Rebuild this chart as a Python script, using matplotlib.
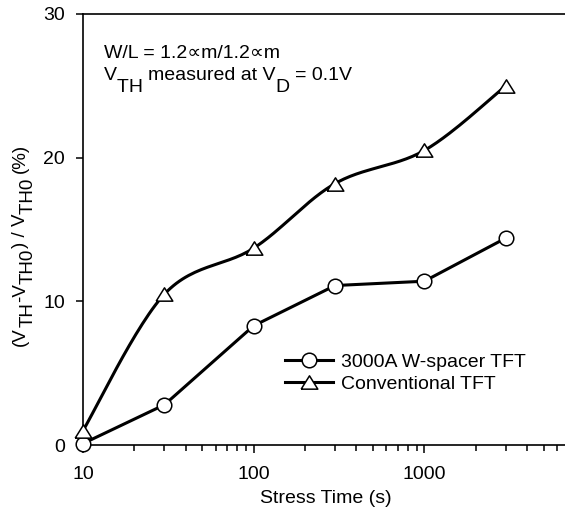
import numpy as np
import matplotlib.pyplot as plt
from matplotlib.transforms import offset_copy

plt.rcParams['font.family'] = ['Liberation Sans', 'DejaVu Sans']

# Dados
tempo = [10, 30, 100, 300, 1000, 3000]
wspacer = [0.1, 2.8, 8.3, 11.1, 11.4, 14.4]
convencional = [1.0, 10.5, 13.7, 18.2, 20.5, 25.0]
rotulos = ['3000A W-spacer TFT', 'Conventional TFT']

# triangulo um pouco mais largo que alto, como no original
triangulo = [(-1, -0.8), (1, -0.8), (0, 0.8), (-1, -0.8)]


def suavizar(x, y, n=30):
    # curva Catmull-Rom no espaco (log x, y), como a linha suavizada do Excel
    u = np.log10(x) * 170.5
    v = np.array(y) * 14.37
    pu = np.concatenate([[u[0]], u, [u[-1]]])
    pv = np.concatenate([[v[0]], v, [v[-1]]])
    xs, ys = [], []
    t = np.linspace(0, 1, n)
    for i in range(1, len(pu) - 2):
        c1u = pu[i] + (pu[i + 1] - pu[i - 1]) / 6
        c1v = pv[i] + (pv[i + 1] - pv[i - 1]) / 6
        c2u = pu[i + 1] - (pu[i + 2] - pu[i]) / 6
        c2v = pv[i + 1] - (pv[i + 2] - pv[i]) / 6
        bu = ((1 - t) ** 3 * pu[i] + 3 * (1 - t) ** 2 * t * c1u
              + 3 * (1 - t) * t ** 2 * c2u + t ** 3 * pu[i + 1])
        bv = ((1 - t) ** 3 * pv[i] + 3 * (1 - t) ** 2 * t * c1v
              + 3 * (1 - t) * t ** 2 * c2v + t ** 3 * pv[i + 1])
        xs.extend(10 ** (bu / 170.5))
        ys.extend(bv / 14.37)
    return xs, ys


fig = plt.figure(figsize=(5.65, 5.2), dpi=100)
ax = fig.add_axes([83 / 565, 1 - 445 / 520, 512 / 565, 431 / 520])
renderer = fig.canvas.get_renderer()


def largura(s, size):
    t1 = fig.text(0, 0, s + '|', fontsize=size)
    t2 = fig.text(0, 0, '|', fontsize=size)
    w = t1.get_window_extent(renderer).width - t2.get_window_extent(renderer).width
    t1.remove()
    t2.remove()
    return w


def texto_composto(x, y, partes, size, desce, vertical=False, centro=False):
    # partes: (texto, e_subscrito); x, y em pixels a partir do topo-esquerda
    total = sum(largura(s, size) for s, _ in partes)
    pos = -total / 2 if centro else 0
    base = fig.transFigure
    for s, sub in partes:
        d = desce if sub else 0
        if vertical:
            tr = offset_copy(base, fig=fig, x=d, y=pos, units='dots')
            rot = 90
        else:
            tr = offset_copy(base, fig=fig, x=pos, y=-d, units='dots')
            rot = 0
        fig.text(x / 565, 1 - y / 520, s, fontsize=size, rotation=rot,
                 rotation_mode='anchor', ha='left', va='baseline', transform=tr)
        pos += largura(s, size)


ax.plot(tempo, wspacer, color='black', lw=2.2, zorder=2)
ax.plot(tempo, wspacer, 'o', color='black', mfc='white', mec='black',
        mew=1.1, ms=10.5, clip_on=False, zorder=3)
xs, ys = suavizar(tempo, convencional)
ax.plot(xs, ys, color='black', lw=2.2, zorder=2)
ax.plot(tempo, convencional, marker=triangulo, ls='none', color='black',
        mfc='white', mec='black', mew=1.1, ms=12, clip_on=False, zorder=3)

# legenda
h1, = ax.plot([], [], '-o', color='black', lw=2.2, mfc='white', mec='black',
              mew=1.1, ms=10.5)
h2, = ax.plot([], [], '-', marker=triangulo, color='black', lw=2.2,
              mfc='white', mec='black', mew=1.1, ms=12)
ax.legend([h1, h2], rotulos, loc='upper left',
          bbox_to_anchor=((285 - 83) / 512, (445 - 353) / 431),
          frameon=False, fontsize=14, handlelength=2.45, handletextpad=0.45,
          labelspacing=0.26, borderaxespad=0, borderpad=0)

texto_composto(104, 58, [('W/L = 1.2\u221dm/1.2\u221dm', False)], 14, 0)
texto_composto(104, 80, [('V', False), ('TH ', True), ('measured at V', False),
                         ('D ', True), ('= 0.1V', False)], 14, 12)
texto_composto(25, 245, [('(V', False), ('TH', True), ('-V', False),
                         ('TH0', True), (') / V', False), ('TH0 ', True),
                         ('(%)', False)], 13.5, 8, vertical=True, centro=True)

ax.set_xscale('log')
ax.set_xlim(10, 10000)
ax.set_ylim(0, 30)
ax.set_yticks([0, 10, 20, 30])
ax.set_xticks([10, 100, 1000])
ax.set_xticklabels(['10', '100', '1000'])
ax.spines['right'].set_visible(False)
for s in ['left', 'bottom', 'top']:
    ax.spines[s].set_linewidth(1.2)
ax.tick_params(axis='both', which='major', labelsize=14, width=1.1,
               direction='out')
ax.tick_params(axis='x', which='major', length=6, pad=9)
ax.tick_params(axis='x', which='minor', length=4, width=1.1)
ax.tick_params(axis='y', which='major', length=5, pad=8)

ax.set_xlabel('Stress Time (s)', fontsize=14)
ax.xaxis.set_label_coords((326 - 83) / 512, -0.105)

plt.savefig('out.png', dpi=100)
